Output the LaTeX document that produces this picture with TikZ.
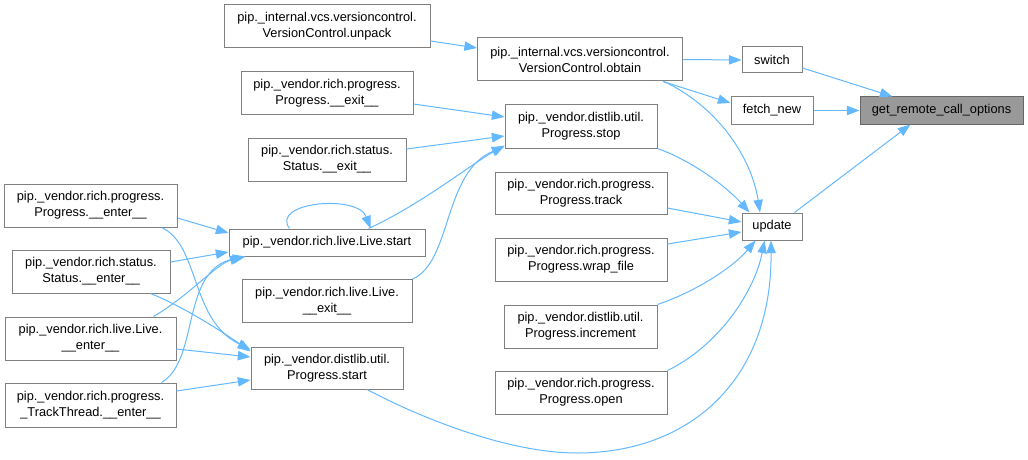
\documentclass[tikz,border=0pt]{standalone}
\usepackage{fontspec}
\setmainfont{Liberation Sans}
\usetikzlibrary{arrows.meta,calc}
\definecolor{edgec}{HTML}{63B8FF}
\definecolor{bord}{HTML}{808080}
\definecolor{hlbord}{HTML}{666666}
\definecolor{hl}{HTML}{999999}
\begin{document}
\begin{tikzpicture}[x=0.75pt,y=-0.75pt,
  box/.style={draw=bord, line width=0.75pt, fill=white, inner sep=0pt, align=center,
              font=\fontsize{9.6}{12}\selectfont},
  sz/.style 2 args={minimum width=#1*0.75pt, minimum height=#2*0.75pt},
  e/.style={draw=edgec, line width=0.75pt, -{Triangle[length=9.5pt,width=7pt]}}]
\useasboundingbox (0,0) rectangle (1028,460);

% nodes
\node[box, sz={206}{43}] (unpack) at (327,26.5) {pip.\_internal.vcs.versioncontrol.\\VersionControl.unpack};
\node[box, sz={205}{43}] (obtain) at (580,59.5) {pip.\_internal.vcs.versioncontrol.\\VersionControl.obtain};
\node[box, sz={60}{26}] (switch) at (772,60) {switch};
\node[box, sz={82}{27}] (fetch) at (772,110.5) {fetch\_new};
\node[box, sz={163}{27}, fill=hl, draw=hlbord] (grco) at (941.5,110.5) {get\_remote\_call\_options};
\node[box, sz={152}{43}] (stop) at (581,126.5) {pip.\_vendor.distlib.util.\\Progress.stop};
\node[box, sz={172}{42}] (pexit) at (327,93) {pip.\_vendor.rich.progress.\\Progress.\_\_exit\_\_};
\node[box, sz={158}{43}] (sexit) at (327,159.5) {pip.\_vendor.rich.status.\\Status.\_\_exit\_\_};
\node[box, sz={172}{42}] (track) at (581,193) {pip.\_vendor.rich.progress.\\Progress.track};
\node[box, sz={172}{43}] (wrap) at (581,259.5) {pip.\_vendor.rich.progress.\\Progress.wrap\_file};
\node[box, sz={153}{43}] (incr) at (580.5,326.5) {pip.\_vendor.distlib.util.\\Progress.increment};
\node[box, sz={172}{43}] (open) at (581,392.5) {pip.\_vendor.rich.progress.\\Progress.open};
\node[box, sz={60}{27}] (update) at (772,226.5) {update};
\node[box, sz={196}{27}] (lstart) at (327,242.5) {pip.\_vendor.rich.live.Live.start};
\node[box, sz={170}{43}] (lexit) at (327,301) {pip.\_vendor.rich.live.Live.\\\_\_exit\_\_};
\node[box, sz={152}{42}] (pstart) at (327,368) {pip.\_vendor.distlib.util.\\Progress.start};
\node[box, sz={173}{43}] (penter) at (90.5,205.5) {pip.\_vendor.rich.progress.\\Progress.\_\_enter\_\_};
\node[box, sz={158}{43}] (senter) at (91,271.5) {pip.\_vendor.rich.status.\\Status.\_\_enter\_\_};
\node[box, sz={171}{43}] (lenter) at (90.5,338.5) {pip.\_vendor.rich.live.Live.\\\_\_enter\_\_};
\node[box, sz={171}{44}] (tenter) at (90.5,405) {pip.\_vendor.rich.progress.\\\_TrackThread.\_\_enter\_\_};

% edges
\draw[e] ($(unpack.east)+(0,14.5)$) -- ($(obtain.west)+(0,-11.5)$);
\draw[e] (obtain.east) -- (switch.west);
\draw[e] ($(obtain.south east)+(-20,0)$) -- ($(fetch.west)+(0,-7.5)$);
\draw[e] ($(obtain.south east)+(-19,0)$) .. controls (720,108) and (752,160) .. ($(update.north)+(-12,0)$);
\draw[e] ($(switch.east)+(0,8)$) -- ($(grco.north west)+(33,0)$);
\draw[e] (fetch.east) -- (grco.west);
\draw[e] ($(update.north east)+(-8,0)$) -- ($(grco.south west)+(51,0)$);
\draw[e] ($(stop.south east)+(0,0)$) .. controls (690,160) and (725,185) .. ($(update.north west)+(8,0)$);

\draw[e] ($(pexit.east)+(0,11)$) -- ($(stop.west)+(0,-9.5)$);
\draw[e] ($(sexit.east)+(0,-10.5)$) -- ($(stop.west)+(0,9.5)$);
\draw[e] ($(lstart.north east)+(-57,0)$) .. controls (420,205) and (470,165) .. ($(stop.south west)+(0,-3)$);
\draw[e] (lexit.north east) .. controls (452,262) and (443,172) .. ($(stop.south west)+(0,-2)$);
\draw[e] ($(lstart.north west)+(61,0)$) .. controls (270,202) and (358,194) .. ($(lstart.north east)+(-55,0)$);

\draw[e] ($(track.east)+(0,15)$) -- ($(update.west)+(0,-4.5)$);
\draw[e] ($(wrap.east)+(0,-15.5)$) -- ($(update.west)+(0,5.5)$);
\draw[e] (incr.north east) .. controls (700,290) and (735,265) .. ($(update.south west)+(14,0)$);
\draw[e] (open.north east) .. controls (720,345) and (755,290) .. ($(update.south west)+(23,0)$);
\draw[e] ($(pstart.south)+(40,0)$) .. controls (415,415) and (505,453) .. (577,453)
          .. controls (690,453) and (772,380) .. ($(update.south)+(-1,0)$);

\draw[e] ($(penter.east)+(0,12.5)$) -- ($(lstart.west)+(0,-9.5)$);
\draw[e] ($(penter.south east)+(-16,0)$) .. controls (200,245) and (190,320) .. ($(pstart.north west)+(0,3)$);
\draw[e] ($(senter.east)+(0,-9.5)$) -- ($(lstart.west)+(0,9.5)$);
\draw[e] ($(senter.south east)+(-20,0)$) .. controls (180,305) and (220,330) .. ($(pstart.north west)+(0,5)$);
\draw[e] ($(lenter.north east)+(-23,0)$) .. controls (190,295) and (215,265) .. ($(lstart.south west)+(14,0)$);
\draw[e] ($(lenter.east)+(0,10.5)$) -- ($(pstart.west)+(0,-11)$);
\draw[e] ($(tenter.north east)+(-15,0)$) .. controls (200,360) and (180,270) .. ($(lstart.south west)+(17,0)$);
\draw[e] ($(tenter.east)+(0,-14)$) -- ($(pstart.west)+(0,12)$);
\end{tikzpicture}
\end{document}
